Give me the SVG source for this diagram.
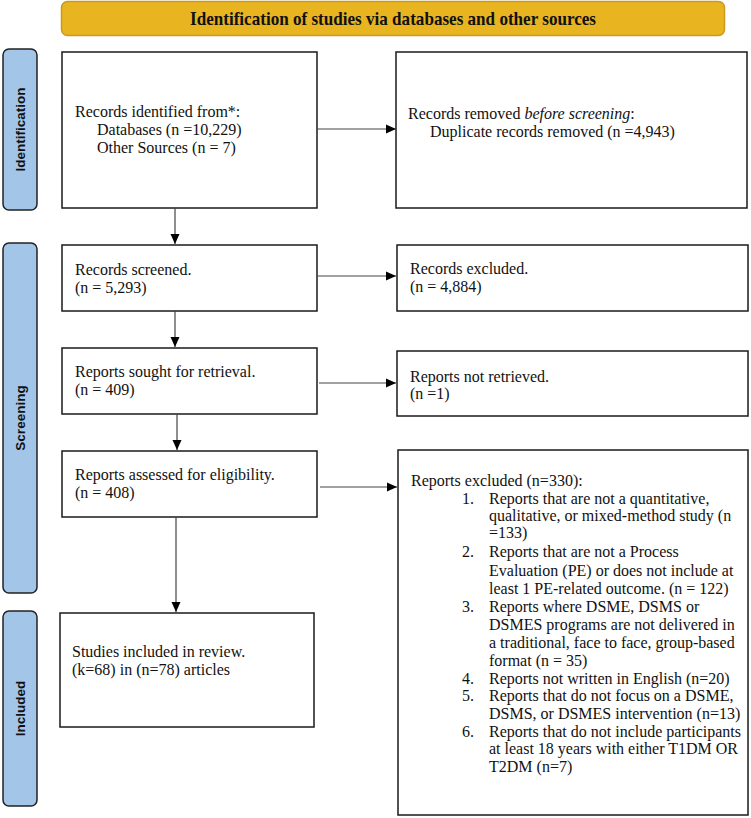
<svg xmlns="http://www.w3.org/2000/svg" width="751" height="818" viewBox="0 0 751 818">
<defs>
<style>
.box{fill:#fff;stroke:#1a1a1a;stroke-width:1.5}
.pill{fill:#a3c5e8;stroke:#222;stroke-width:1.5}
.t{font-family:"Liberation Serif","Times New Roman",serif;font-size:16px;fill:#111}
.pt{font-family:"Liberation Sans",Arial,sans-serif;font-size:13.5px;font-weight:bold;fill:#111}
.c{stroke:#444;stroke-width:1.2;fill:none;marker-end:url(#ah)}
</style>
<marker id="ah" markerUnits="userSpaceOnUse" markerWidth="10" markerHeight="10" viewBox="0 0 10 10" refX="10" refY="5" orient="auto">
<path d="M0,0.5 L10,5 L0,9.5 Z" fill="#000"/>
</marker>
</defs>
<rect x="0" y="0" width="751" height="818" fill="#fff"/>

<g id="banner">
<rect x="61.5" y="1.5" width="663" height="34" rx="6" fill="#e8b420" stroke="#c99a1c" stroke-width="1.5"/>
<text x="393" y="25" text-anchor="middle" font-family="Liberation Serif,'Times New Roman',serif" font-size="19" font-weight="bold" fill="#111" textLength="406" lengthAdjust="spacingAndGlyphs">Identification of studies via databases and other sources</text>
</g>

<g id="phase-identification">
<rect class="pill" x="3" y="49" width="34" height="161" rx="6"/>
<text class="pt" transform="translate(25,129.5) rotate(-90)" text-anchor="middle">Identification</text>
</g>
<g id="phase-screening">
<rect class="pill" x="3" y="243" width="34" height="350" rx="6"/>
<text class="pt" transform="translate(25,418) rotate(-90)" text-anchor="middle">Screening</text>
</g>
<g id="phase-included">
<rect class="pill" x="3" y="611" width="34" height="195" rx="6"/>
<text class="pt" transform="translate(25,708.5) rotate(-90)" text-anchor="middle">Included</text>
</g>

<g id="records-identified">
<rect class="box" x="62" y="52" width="255" height="156"/>
<text class="t" x="75" y="117">Records identified from*:</text>
<text class="t" x="97" y="135">Databases (n =10,229)</text>
<text class="t" x="97" y="153">Other Sources (n = 7)</text>
</g>

<g id="records-removed">
<rect class="box" x="396" y="52" width="351" height="156"/>
<text class="t" x="408" y="119">Records removed <tspan font-style="italic">before screening</tspan>:</text>
<text class="t" x="430" y="137">Duplicate records removed (n =4,943)</text>
</g>

<g id="records-screened">
<rect class="box" x="62" y="245" width="255" height="66"/>
<text class="t" x="75" y="275">Records screened.</text>
<text class="t" x="75" y="293">(n = 5,293)</text>
</g>

<g id="records-excluded">
<rect class="box" x="397" y="245" width="351" height="66"/>
<text class="t" x="410" y="274">Records excluded.</text>
<text class="t" x="410" y="292">(n = 4,884)</text>
</g>

<g id="reports-sought">
<rect class="box" x="62" y="348" width="255" height="66"/>
<text class="t" x="75" y="377">Reports sought for retrieval.</text>
<text class="t" x="75" y="395">(n = 409)</text>
</g>

<g id="reports-not-retrieved">
<rect class="box" x="397" y="351" width="351" height="65"/>
<text class="t" x="410" y="382">Reports not retrieved.</text>
<text class="t" x="410" y="399">(n =1)</text>
</g>

<g id="reports-assessed">
<rect class="box" x="62" y="451" width="255" height="66"/>
<text class="t" x="75" y="480">Reports assessed for eligibility.</text>
<text class="t" x="75" y="498">(n = 408)</text>
</g>

<g id="reports-excluded">
<rect class="box" x="398" y="450" width="350" height="365"/>
<text class="t" x="411" y="486">Reports excluded (n=330):</text>
<text class="t" x="462" y="504">1.</text>
<text class="t" x="489" y="504">Reports that are not a quantitative,</text>
<text class="t" x="489" y="521">qualitative, or mixed-method study (n</text>
<text class="t" x="489" y="538">=133)</text>
<text class="t" x="462" y="557">2.</text>
<text class="t" x="489" y="557">Reports that are not a Process</text>
<text class="t" x="489" y="576">Evaluation (PE) or does not include at</text>
<text class="t" x="489" y="594">least 1 PE-related outcome. (n = 122)</text>
<text class="t" x="462" y="612">3.</text>
<text class="t" x="489" y="612">Reports where DSME, DSMS or</text>
<text class="t" x="489" y="630">DSMES programs are not delivered in</text>
<text class="t" x="489" y="648">a traditional, face to face, group-based</text>
<text class="t" x="489" y="666">format (n = 35)</text>
<text class="t" x="462" y="684">4.</text>
<text class="t" x="489" y="684">Reports not written in English (n=20)</text>
<text class="t" x="462" y="701">5.</text>
<text class="t" x="489" y="701">Reports that do not focus on a DSME,</text>
<text class="t" x="489" y="719">DSMS, or DSMES intervention (n=13)</text>
<text class="t" x="462" y="737">6.</text>
<text class="t" x="489" y="737">Reports that do not include participants</text>
<text class="t" x="489" y="754">at least 18 years with either T1DM OR</text>
<text class="t" x="489" y="772">T2DM (n=7)</text>
</g>

<g id="studies-included">
<rect class="box" x="60" y="613" width="254" height="114"/>
<text class="t" x="72" y="657">Studies included in review.</text>
<text class="t" x="72" y="675">(k=68) in (n=78) articles</text>
</g>

<g id="connectors">
<line class="c" x1="317" y1="129" x2="396" y2="129"/>
<line class="c" x1="175" y1="208" x2="175" y2="244"/>
<line class="c" x1="317" y1="276" x2="396" y2="276"/>
<line class="c" x1="175" y1="311" x2="175" y2="347"/>
<line class="c" x1="319" y1="383" x2="396" y2="383"/>
<line class="c" x1="177" y1="414" x2="177" y2="450"/>
<line class="c" x1="320" y1="487" x2="397" y2="487"/>
<line class="c" x1="176" y1="517" x2="176" y2="612"/>
</g>
</svg>
